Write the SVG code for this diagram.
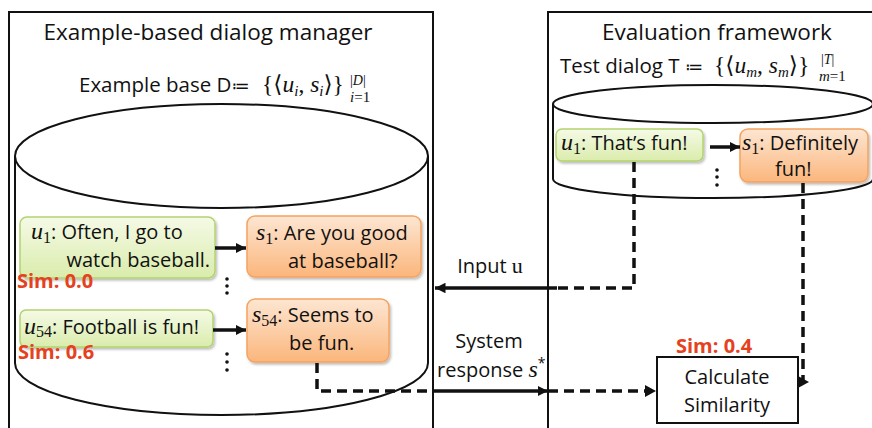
<svg xmlns="http://www.w3.org/2000/svg" width="872" height="428" viewBox="0 0 872 428">
<style>
.t{font-family:"Open Sans","Liberation Sans",sans-serif;fill:#111}
.m{font-family:"Liberation Serif","DejaVu Serif",serif;font-style:italic}
.r{font-family:"Liberation Serif","DejaVu Serif",serif;font-style:normal}
.sim{font-family:"Open Sans","Liberation Sans",sans-serif;font-weight:bold;fill:#e5411d;font-size:20px}
.frame{fill:none;stroke:#111;stroke-width:2}
.cyl{fill:#fff;stroke:#111;stroke-width:2}
.g{fill:url(#gg);stroke:#b3d36c;stroke-width:1.5;filter:url(#sh)}
.o{fill:url(#og);stroke:#f5a360;stroke-width:1.5;filter:url(#sh)}
.sl{fill:none;stroke:#111;stroke-width:3.5}
.dl{fill:none;stroke:#111;stroke-width:3.5;stroke-dasharray:10 6}
.ah{fill:#111}
</style>
<defs>
<linearGradient id="gg" x1="0" y1="0" x2="0" y2="1"><stop offset="0" stop-color="#f5fae6"/><stop offset="1" stop-color="#daecac"/></linearGradient>
<linearGradient id="og" x1="0" y1="0" x2="0" y2="1"><stop offset="0" stop-color="#fde6d2"/><stop offset="1" stop-color="#fbb67c"/></linearGradient>
<filter id="sh" x="-10%" y="-10%" width="125%" height="135%"><feDropShadow dx="1.5" dy="2" stdDeviation="1.2" flood-color="#000" flood-opacity="0.25"/></filter>
<marker id="arr" viewBox="0 0 10 10" refX="10" refY="5" markerWidth="3" markerHeight="3" orient="auto" markerUnits="strokeWidth"><path d="M0,0 L10,5 L0,10 Z" fill="#111"/></marker>
</defs>

<g id="dialog-manager">
<rect class="frame" x="9" y="12" width="424" height="440"/>
<text class="t" x="208" y="40" font-size="22.5" text-anchor="middle">Example-based dialog manager</text>
<text class="t" x="79" y="92" font-size="20.5">Example base D<tspan font-family="DejaVu Sans" font-size="18">≔</tspan></text>
<text class="t" x="262" y="92" font-size="23.5"><tspan class="r">{⟨</tspan><tspan class="m">u</tspan><tspan class="m" font-size="15" dy="4">i</tspan><tspan class="r" dy="-4">, </tspan><tspan class="m">s</tspan><tspan class="m" font-size="15" dy="4">i</tspan><tspan class="r" dy="-4">⟩}</tspan></text>
<text class="r" x="350" y="85" font-size="14" fill="#111">|<tspan class="m">D</tspan>|</text>
<text class="m" x="350" y="102" font-size="15" fill="#111">i<tspan class="r">=1</tspan></text>
</g>

<g id="example-base">
<path class="cyl" d="M15,156 L15,363 A206.5,52 0 0 0 428,363 L428,156"/>
<ellipse class="cyl" cx="221.5" cy="156" rx="206.5" ry="52"/>
</g>

<g id="u1-left">
<rect class="g" x="20" y="217" width="195" height="61" rx="7"/>
<text class="t" x="31" y="239" font-size="20"><tspan class="m" font-size="24">u</tspan><tspan class="r" font-size="16" dy="4">1</tspan><tspan dy="-4">: Often, I go to</tspan></text>
<text class="t" x="210" y="267" font-size="20" text-anchor="end">watch baseball.</text>
</g>

<g id="s1-left">
<rect class="o" x="247" y="216" width="174" height="61" rx="8"/>
<text class="t" x="256" y="240" font-size="20"><tspan class="m" font-size="24">s</tspan><tspan class="r" font-size="16" dy="4">1</tspan><tspan dy="-4">: Are you good</tspan></text>
<text class="t" x="288" y="268" font-size="20">at baseball?</text>
</g>

<g id="u54-left">
<rect class="g" x="20" y="310" width="193" height="37" rx="6"/>
<text class="t" x="24" y="334" font-size="20"><tspan class="m" font-size="24">u</tspan><tspan class="r" font-size="16" dy="3">54</tspan><tspan dy="-3">: Football is fun!</tspan></text>
</g>

<g id="s54-left">
<rect class="o" x="247" y="299" width="142" height="63" rx="8"/>
<text class="t" x="252" y="322" font-size="20"><tspan class="m" font-size="24">s</tspan><tspan class="r" font-size="16" dy="4">54</tspan><tspan dy="-4">:  Seems to</tspan></text>
<text class="t" x="289" y="350" font-size="20">be fun.</text>
</g>

<g id="sim-labels">
<text class="sim" x="17" y="288">Sim: 0.0</text>
<text class="sim" x="18" y="359">Sim: 0.6</text>
<text class="sim" x="676" y="353">Sim: 0.4</text>
</g>

<g id="evaluation-framework">
<rect class="frame" x="548" y="12" width="340" height="440"/>
<text class="t" x="717" y="40" font-size="22.5" text-anchor="middle">Evaluation framework</text>
<text class="t" x="560" y="73" font-size="20.5">Test dialog T <tspan font-family="DejaVu Sans" font-size="18">≔</tspan></text>
<text class="t" x="714" y="73" font-size="23.5"><tspan class="r">{⟨</tspan><tspan class="m">u</tspan><tspan class="m" font-size="15" dy="4">m</tspan><tspan class="r" dy="-4">, </tspan><tspan class="m">s</tspan><tspan class="m" font-size="15" dy="4">m</tspan><tspan class="r" dy="-4">⟩}</tspan></text>
<text class="r" x="821" y="64" font-size="14" fill="#111">|<tspan class="m">T</tspan>|</text>
<text class="m" x="819" y="81" font-size="15" fill="#111">m<tspan class="r">=1</tspan></text>
</g>

<g id="test-dialog">
<path class="cyl" d="M553,104 L553,179 A160,19 0 0 0 873,179 L873,104"/>
<ellipse class="cyl" cx="713" cy="104" rx="160" ry="19"/>
</g>

<g id="u1-right">
<rect class="g" x="556" y="129" width="147" height="32" rx="6"/>
<text class="t" x="561" y="150" font-size="20"><tspan class="m" font-size="24">u</tspan><tspan class="r" font-size="16" dy="4">1</tspan><tspan dy="-4">: That’s fun!</tspan></text>
</g>

<g id="s1-right">
<rect class="o" x="740" y="129" width="128" height="53" rx="8"/>
<text class="t" x="742" y="150" font-size="20"><tspan class="m" font-size="24">s</tspan><tspan class="r" font-size="16" dy="4">1</tspan><tspan dy="-4">: Definitely</tspan></text>
<text class="t" x="775" y="176" font-size="20">fun!</text>
</g>

<g id="calculate-similarity">
<rect x="657" y="357" width="141" height="66" fill="#fff" stroke="#111" stroke-width="2"/>
<text class="t" x="727" y="384" font-size="20" text-anchor="middle">Calculate</text>
<text class="t" x="727" y="412" font-size="20" text-anchor="middle">Similarity</text>
</g>

<g id="dots" fill="#111">
<circle cx="227" cy="279" r="1.8"/><circle cx="227" cy="286" r="1.8"/><circle cx="227" cy="293" r="1.8"/>
<circle cx="227" cy="354" r="1.8"/><circle cx="227" cy="362" r="1.8"/><circle cx="227" cy="370" r="1.8"/>
<circle cx="717" cy="170" r="1.8"/><circle cx="717" cy="177" r="1.8"/><circle cx="717" cy="185" r="1.8"/>
</g>

<g id="connectors">
<line class="sl" x1="215" y1="248" x2="246" y2="248" marker-end="url(#arr)"/>
<line class="sl" x1="213" y1="330" x2="246" y2="330" marker-end="url(#arr)"/>
<line class="sl" x1="710" y1="147" x2="740" y2="147" marker-end="url(#arr)"/>
<path class="dl" d="M634,162 V288 H557"/>
<line class="sl" x1="557" y1="288" x2="435" y2="288" marker-end="url(#arr)"/>
<text class="t" x="490" y="273" font-size="20" text-anchor="middle">Input <tspan class="r" font-size="22">u</tspan></text>
<path class="dl" d="M317,363 V391 H433"/>
<line class="sl" x1="433" y1="391" x2="548" y2="391" marker-end="url(#arr)"/>
<path class="dl" d="M548,391 H646"/>
<path class="ah" d="M645,385 L656,391 L645,397 Z"/>
<text class="t" x="489" y="348" font-size="20" text-anchor="middle">System</text>
<text class="t" x="437" y="377" font-size="20">response <tspan class="m" font-size="24">s</tspan><tspan font-size="14" dy="-9">*</tspan></text>
<path class="dl" d="M803,183 V382"/>
<path class="ah" d="M798,376 L809,382 L798,388 Z"/>
</g>
</svg>
